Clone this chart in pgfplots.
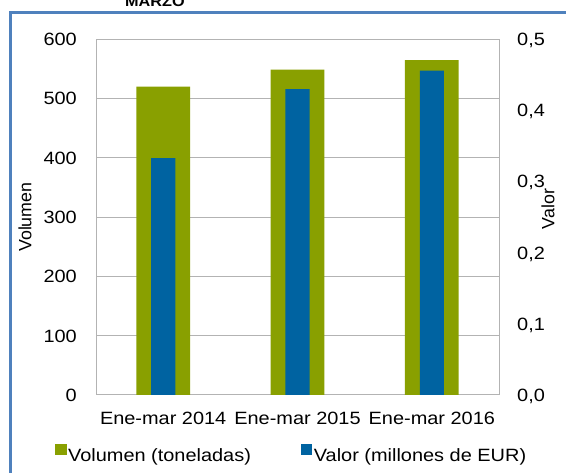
\documentclass[border=0pt]{standalone}
\usepackage{fontspec}
\setmainfont{Liberation Sans}[FakeStretch=1.12]
\newfontfamily\rotfont{Liberation Sans}
\usepackage{pgfplots}
\pgfplotsset{compat=1.18}
\definecolor{vgreen}{RGB}{137,160,0}
\definecolor{vblue}{RGB}{0,99,161}
\definecolor{gridgray}{RGB}{179,179,179}
\definecolor{frameblue}{RGB}{79,129,189}
\newcommand\fs{\fontsize{17.8bp}{20bp}\selectfont}
\begin{document}
\begin{tikzpicture}[x=1bp,y=1bp]
\path[use as bounding box] (0,0) rectangle (566,473);
\draw[frameblue, line width=3bp] (10.5,-5) -- (10.5,460) -- (575,460);
\node[font=\fontsize{14.5bp}{16bp}\selectfont\bfseries, anchor=base west, inner sep=0pt] at (125,466) {MARZO};
\begin{axis}[
  at={(96bp,78bp)}, anchor=south west, scale only axis,
  width=403bp, height=355.7bp,
  xmin=-0.5, xmax=2.5, ymin=0, ymax=600,
  xtick={0,1,2}, xticklabels={Ene-mar 2014, Ene-mar 2015, Ene-mar 2016},
  ytick={0,100,200,300,400,500,600},
  axis line style={gridgray, line width=1bp},
  major tick length=0pt,
  ymajorgrids, grid style={gridgray, line width=1bp},
  /pgf/number format/assume math mode=true,
  tick label style={font=\fs},
  yticklabel style={anchor=base east, inner sep=0pt, xshift=-19bp, yshift=-6.4bp},
  xticklabel style={anchor=base, inner sep=0pt, yshift=-29.5bp},
  ylabel={Volumen},
  every axis y label/.style={at={(axis description cs:-0.1762,0.5)}, rotate=90, anchor=center, font=\rotfont\fs},
]
\addplot[ybar, bar width=0.4, bar shift=0pt, fill=vgreen, draw=none] coordinates {(0,520) (1,549) (2,565)};
\end{axis}
\begin{axis}[
  at={(96bp,78bp)}, anchor=south west, scale only axis,
  width=403bp, height=355.7bp,
  xmin=-0.5, xmax=2.5, ymin=0, ymax=0.5,
  axis x line=none, axis y line*=right,
  axis line style={gridgray, line width=1bp},
  major tick length=0pt,
  ytick={0,0.1,0.2,0.3,0.4,0.5},
  /pgf/number format/.cd, fixed, fixed zerofill, precision=1, use comma, assume math mode=true, /pgfplots/.cd,
  tick label style={font=\fs},
  yticklabel style={anchor=base west, inner sep=0pt, xshift=18bp, yshift=-6.4bp},
  ylabel={Valor},
  every axis y label/.style={at={(axis description cs:1.1216,0.5225)}, rotate=90, anchor=center, font=\rotfont\fs},
  legend columns=2,
  legend style={at={(axis description cs:0,0)}, anchor=west, xshift=-41bp, yshift=-58.5bp,
    draw=none, fill=none, inner sep=0pt, nodes={inner sep=0pt}, font=\fs,
    /tikz/every odd column/.append style={column sep=2bp},
    /tikz/every even column/.append style={column sep=50bp}},
]
\addlegendimage{legend image code/.code={\fill[vgreen] (0bp,1.6bp) rectangle (10.5bp,12.3bp);}}
\addlegendentry{Volumen (toneladas)}
\addlegendimage{legend image code/.code={\fill[vblue] (0bp,1.6bp) rectangle (10.5bp,12.3bp);}}
\addlegendentry{Valor (millones de EUR)}
\addplot[ybar, bar width=0.18, bar shift=0pt, fill=vblue, draw=none, forget plot] coordinates {(0,0.333) (1,0.430) (2,0.456)};
\end{axis}
\end{tikzpicture}
\end{document}
